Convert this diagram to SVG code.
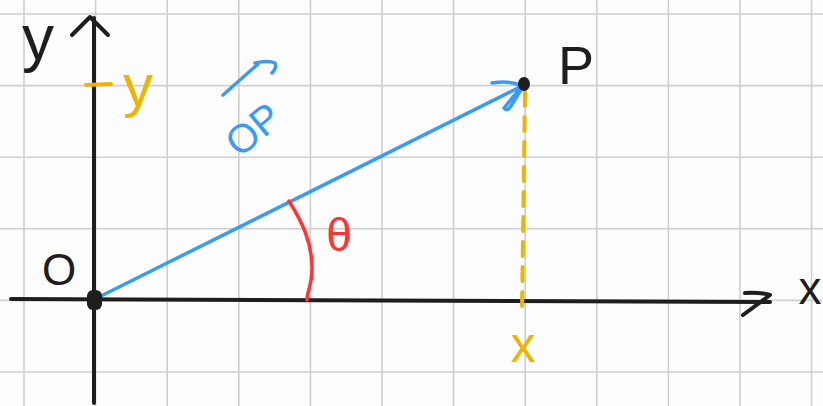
<svg xmlns="http://www.w3.org/2000/svg" width="823" height="406" viewBox="0 0 823 406">
<style>
.grid{stroke:#cfcfcf;stroke-width:1.6;fill:none}
.ink{stroke:#1e1e1e;stroke-width:4;fill:none;stroke-linecap:round;stroke-linejoin:round}
.blue{stroke:#3a9bf7;stroke-width:3.5;fill:none;stroke-linecap:round;stroke-linejoin:round}
.orange{stroke:#efb300;stroke-width:4;fill:none;stroke-linecap:round}
.red{stroke:#ff3535;stroke-width:3.5;fill:none;stroke-linecap:round}
.lbl{font-family:"Liberation Sans",Arial,sans-serif}
</style>
<rect width="823" height="406" fill="#fdfdfd"/>
<g id="grid" class="grid">
<path d="M24,0V406M95.6,0V406M167.2,0V406M238.8,0V406M310.4,0V406M382,0V406M453.6,0V406M525.2,0V406M596.8,0V406M668.4,0V406M740,0V406M811.6,0V406"/>
<path d="M0,14H823M0,85.6H823M0,157.2H823M0,228.8H823M0,300.4H823M0,372H823"/>
</g>
<g id="connectors">
<g id="y-axis"><path class="ink" d="M94,403V18"/><path class="ink" d="M72,35L90,17L108,35"/></g>
<g id="x-axis"><path class="ink" d="M11,299L770,302"/><path class="ink" d="M745,293Q760,292 770,295L743,315"/></g>
<g id="op-vector"><path class="blue" d="M95,299L522,86"/><path class="blue" d="M492,83Q510,80 522,86L504,108Q507,112 511,106L522,88"/></g>
<path id="x-projection" class="orange" d="M525,92L522,312" stroke-dasharray="14,11"/>
<path id="theta-arc" class="red" d="M289,201C302,222 311,240 312,265C313,285 307,290 307,300"/>
</g>
<g id="origin"><rect x="87" y="290" width="15" height="20" rx="6" fill="#1e1e1e"/><text class="lbl" x="59" y="285" font-size="44" text-anchor="middle" fill="#1e1e1e">O</text></g>
<g id="point-p"><ellipse cx="524" cy="84" rx="6" ry="7" fill="#1e1e1e"/><text class="lbl" x="576" y="84" font-size="54" text-anchor="middle" fill="#1e1e1e">P</text></g>
<g id="label-y"><text class="lbl" x="38" y="60" font-size="64" text-anchor="middle" fill="#1e1e1e">y</text></g>
<g id="label-x"><text class="lbl" x="810" y="304" font-size="46" text-anchor="middle" fill="#1e1e1e">x</text></g>
<g id="y-coord"><path class="orange" d="M86,85L111,84"/><text class="lbl" x="138" y="106" font-size="60" text-anchor="middle" fill="#efb300">y</text></g>
<g id="x-coord"><text class="lbl" x="523" y="362" font-size="50" text-anchor="middle" fill="#efb300">x</text></g>
<g id="op-label"><path class="blue" d="M223,95L258,64M255,63Q268,60 275,63Q277,68 272,73"/><text class="lbl" x="262" y="140" font-size="40" text-anchor="middle" fill="#3a9bf7" transform="rotate(-40 262 140)">OP</text></g>
<g id="theta-label"><text class="lbl" x="339" y="251" font-size="46" text-anchor="middle" fill="#ff3535">θ</text></g>
</svg>
